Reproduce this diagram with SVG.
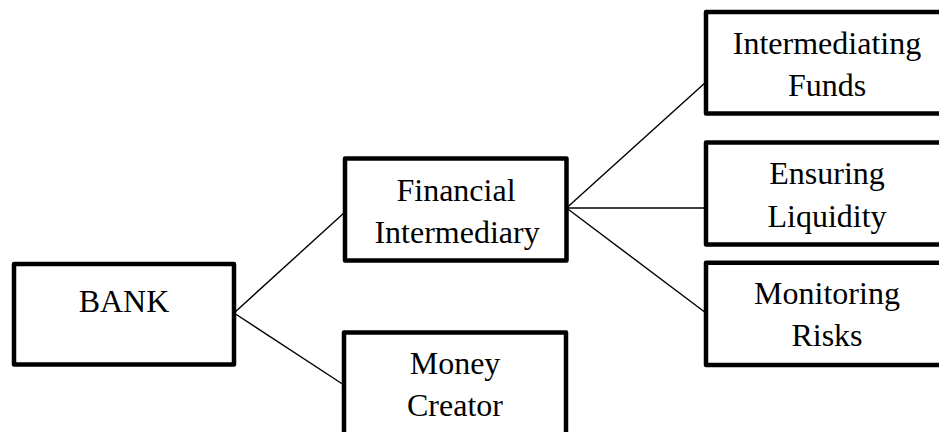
<svg xmlns="http://www.w3.org/2000/svg" width="939" height="432" viewBox="0 0 939 432">
<style>
.box{fill:#fff;stroke:#000;stroke-width:4.5;stroke-linejoin:round}
.t{font-family:"Liberation Serif","Times New Roman",serif;font-size:32px;fill:#000;text-anchor:middle}
.c line{stroke:#000;stroke-width:1.4}
</style>
<rect width="939" height="432" fill="#fff"/>
<g id="connectors" class="c">
<line x1="234" y1="313" x2="345" y2="212"/>
<line x1="234" y1="313" x2="344" y2="385"/>
<line x1="566.5" y1="208" x2="706" y2="82"/>
<line x1="566.5" y1="208" x2="706" y2="208"/>
<line x1="566.5" y1="208" x2="706" y2="313"/>
</g>
<g id="bank">
<rect class="box" x="14" y="264" width="220" height="100.5"/>
<text class="t" x="124" y="312">BANK</text>
</g>
<g id="financial-intermediary">
<rect class="box" x="345" y="158.5" width="221.5" height="102"/>
<text class="t" x="456" y="201">Financial</text>
<text class="t" x="457" y="243">Intermediary</text>
</g>
<g id="money-creator">
<rect class="box" x="344" y="332.5" width="222" height="102"/>
<text class="t" x="455" y="374">Money</text>
<text class="t" x="455" y="416">Creator</text>
</g>
<g id="intermediating-funds">
<rect class="box" x="706" y="12" width="242" height="101.5"/>
<text class="t" x="827" y="54">Intermediating</text>
<text class="t" x="827" y="96">Funds</text>
</g>
<g id="ensuring-liquidity">
<rect class="box" x="706" y="142.5" width="242" height="102"/>
<text class="t" x="827" y="184">Ensuring</text>
<text class="t" x="827" y="226.5">Liquidity</text>
</g>
<g id="monitoring-risks">
<rect class="box" x="706" y="262.7" width="242" height="102.3"/>
<text class="t" x="827" y="304">Monitoring</text>
<text class="t" x="827" y="346">Risks</text>
</g>
</svg>
